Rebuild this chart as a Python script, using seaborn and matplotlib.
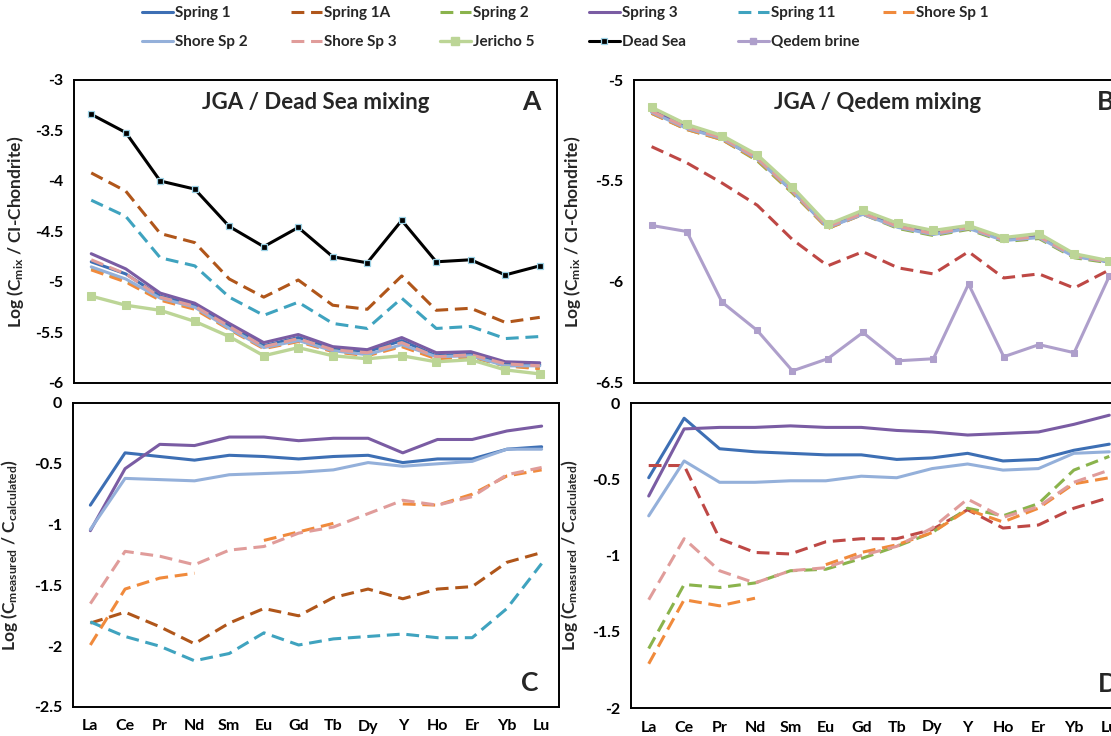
import numpy as np
import pandas as pd
import matplotlib
matplotlib.use("Agg")
import matplotlib.pyplot as plt
import seaborn as sns
from matplotlib.lines import Line2D

# ---------------------------------------------------------------- data
elements = ["La", "Ce", "Pr", "Nd", "Sm", "Eu", "Gd", "Tb", "Dy", "Y", "Ho", "Er", "Yb", "Lu"]
nan = np.nan

# Panel A: JGA / Dead Sea mixing, log(C_mix / CI-chondrite)
a_spring1 = [-4.80, -4.92, -5.14, -5.23, -5.43, -5.63, -5.55, -5.66, -5.69, -5.58, -5.73, -5.71, -5.81, -5.82]
a_spring1a = [-3.92, -4.10, -4.52, -4.61, -4.97, -5.15, -4.98, -5.23, -5.27, -4.94, -5.28, -5.26, -5.40, -5.35]
a_spring2 = [-4.87, -4.99, -5.17, -5.26, -5.46, -5.65, -5.58, -5.68, -5.72, -5.63, -5.75, -5.74, -5.83, -5.85]
a_spring3 = [-4.72, -4.87, -5.11, -5.21, -5.41, -5.60, -5.52, -5.64, -5.67, -5.55, -5.70, -5.69, -5.79, -5.80]
a_spring11 = [-4.19, -4.35, -4.76, -4.84, -5.15, -5.33, -5.20, -5.41, -5.46, -5.16, -5.46, -5.44, -5.56, -5.54]
a_shore1 = [-4.88, -5.00, -5.18, -5.27, -5.47, -5.66, -5.59, -5.69, -5.73, -5.64, -5.76, -5.74, -5.83, -5.86]
a_shore2 = [-4.85, -4.97, -5.16, -5.25, -5.46, -5.65, -5.58, -5.68, -5.72, -5.62, -5.74, -5.73, -5.83, -5.83]
a_shore3 = [-4.78, -4.92, -5.15, -5.24, -5.44, -5.64, -5.56, -5.67, -5.70, -5.60, -5.74, -5.72, -5.81, -5.83]
a_jericho5 = [-5.14, -5.23, -5.28, -5.39, -5.54, -5.73, -5.65, -5.73, -5.76, -5.73, -5.79, -5.77, -5.87, -5.91]
a_dead_sea = [-3.34, -3.52, -4.00, -4.08, -4.45, -4.65, -4.46, -4.75, -4.81, -4.39, -4.80, -4.78, -4.93, -4.84]

# Panel B: JGA / Qedem mixing
b_spring1 = [-5.155, -5.235, -5.29, -5.39, -5.55, -5.73, -5.66, -5.725, -5.76, -5.73, -5.79, -5.775, -5.87, -5.90]
b_spring1a = [-5.33, -5.41, -5.51, -5.62, -5.79, -5.92, -5.85, -5.93, -5.96, -5.85, -5.98, -5.96, -6.03, -5.94]
b_spring2 = [-5.165, -5.245, -5.295, -5.40, -5.56, -5.735, -5.665, -5.735, -5.77, -5.74, -5.80, -5.785, -5.88, -5.905]
b_spring3 = [-5.15, -5.23, -5.285, -5.385, -5.545, -5.725, -5.655, -5.72, -5.755, -5.725, -5.79, -5.77, -5.87, -5.90]
b_shore1 = [-5.165, -5.245, -5.295, -5.395, -5.555, -5.735, -5.665, -5.73, -5.765, -5.735, -5.795, -5.78, -5.875, -5.90]
b_shore2 = [-5.16, -5.24, -5.29, -5.39, -5.55, -5.73, -5.665, -5.73, -5.765, -5.735, -5.795, -5.78, -5.875, -5.90]
b_shore3 = [-5.155, -5.235, -5.285, -5.385, -5.545, -5.725, -5.66, -5.725, -5.76, -5.73, -5.79, -5.775, -5.87, -5.90]
b_jericho5 = [-5.135, -5.22, -5.275, -5.37, -5.53, -5.715, -5.645, -5.71, -5.745, -5.72, -5.78, -5.76, -5.86, -5.895]
b_qedem = [-5.72, -5.75, -6.10, -6.24, -6.44, -6.38, -6.25, -6.39, -6.38, -6.01, -6.37, -6.31, -6.35, -5.97]

# Panel C: log(C_measured / C_calculated), Dead Sea end-member
c_spring1 = [-0.84, -0.41, -0.44, -0.47, -0.43, -0.44, -0.46, -0.44, -0.43, -0.49, -0.46, -0.46, -0.38, -0.36]
c_spring1a = [-1.81, -1.72, -1.84, -1.98, -1.81, -1.69, -1.75, -1.60, -1.53, -1.61, -1.53, -1.51, -1.31, -1.23]
c_spring3 = [-1.05, -0.54, -0.34, -0.35, -0.28, -0.28, -0.31, -0.29, -0.29, -0.41, -0.30, -0.30, -0.23, -0.19]
c_spring11 = [-1.80, -1.92, -2.00, -2.12, -2.06, -1.89, -1.99, -1.94, -1.92, -1.90, -1.93, -1.93, -1.69, -1.32]
c_shore1 = [-1.99, -1.53, -1.44, -1.40, nan, -1.13, -1.06, -0.99, nan, -0.83, -0.84, -0.75, -0.60, -0.55]
c_shore2 = [-1.04, -0.62, -0.63, -0.64, -0.59, -0.58, -0.57, -0.55, -0.49, -0.52, -0.50, -0.48, -0.38, -0.38]
c_shore3 = [-1.65, -1.22, -1.26, -1.33, -1.21, -1.18, -1.07, -1.02, -0.91, -0.80, -0.84, -0.77, -0.59, -0.53]

# Panel D: log(C_measured / C_calculated), Qedem end-member
d_spring1 = [-0.49, -0.10, -0.30, -0.32, -0.33, -0.34, -0.34, -0.37, -0.36, -0.33, -0.38, -0.37, -0.31, -0.27]
d_spring1a = [-0.41, -0.41, -0.89, -0.98, -0.99, -0.91, -0.89, -0.89, -0.83, -0.70, -0.82, -0.80, -0.69, -0.62]
d_spring2 = [-1.61, -1.19, -1.21, -1.18, -1.10, -1.09, -1.02, -0.94, -0.85, -0.69, -0.74, -0.66, -0.44, -0.35]
d_spring3 = [-0.61, -0.17, -0.16, -0.16, -0.15, -0.16, -0.16, -0.18, -0.19, -0.21, -0.20, -0.19, -0.14, -0.08]
d_shore1 = [-1.71, -1.29, -1.33, -1.28, nan, -1.06, -0.98, -0.93, -0.85, -0.70, -0.78, -0.69, -0.53, -0.49]
d_shore2 = [-0.74, -0.38, -0.52, -0.52, -0.51, -0.51, -0.48, -0.49, -0.43, -0.40, -0.44, -0.43, -0.33, -0.32]
d_shore3 = [-1.29, -0.89, -1.10, -1.18, -1.10, -1.08, -1.00, -0.94, -0.82, -0.63, -0.75, -0.68, -0.52, -0.44]

a_yticks = [-6, -5.5, -5, -4.5, -4, -3.5, -3]
a_yticklabels = ["-6", "-5.5", "-5", "-4.5", "-4", "-3.5", "-3"]
b_yticks = [-6.5, -6, -5.5, -5]
b_yticklabels = ["-6.5", "-6", "-5.5", "-5"]
c_yticks = [-2.5, -2, -1.5, -1, -0.5, 0]
c_yticklabels = ["-2.5", "-2", "-1.5", "-1", "-0.5", "0"]
d_yticks = [-2, -1.5, -1, -0.5, 0]
d_yticklabels = ["-2", "-1.5", "-1", "-0.5", "0"]

# ---------------------------------------------------------------- styles
DASH = (0, (4.2, 2.2))
LW = 2.2
styles = {
    "Spring 1": dict(color="#3D6FB4", linestyle="-", linewidth=LW),
    "Spring 1A": dict(color="#B0561A", linestyle=DASH, linewidth=LW),
    "Spring 1A red": dict(color="#BE4845", linestyle=DASH, linewidth=LW),
    "Spring 2": dict(color="#8AB34C", linestyle=DASH, linewidth=LW),
    "Spring 3": dict(color="#7A5CA3", linestyle="-", linewidth=LW),
    "Spring 11": dict(color="#3FA3BF", linestyle=DASH, linewidth=LW),
    "Shore Sp 1": dict(color="#F08A3C", linestyle=DASH, linewidth=LW),
    "Shore Sp 2": dict(color="#94B0DA", linestyle="-", linewidth=LW),
    "Shore Sp 3": dict(color="#E09C9A", linestyle=DASH, linewidth=LW),
    "Jericho 5": dict(color="#BCD596", linestyle="-", linewidth=2.4, marker="s",
                      markersize=5.5, markerfacecolor="#BCD596", markeredgecolor="#BCD596"),
    "Dead Sea": dict(color="black", linestyle="-", linewidth=LW, marker="s",
                     markersize=4.0, markerfacecolor="black", markeredgecolor="#9CD2E6",
                     markeredgewidth=0.9),
    "Qedem brine": dict(color="#AE9FCB", linestyle="-", linewidth=LW, marker="s",
                        markersize=5.0, markerfacecolor="#AE9FCB", markeredgecolor="#AE9FCB"),
}

sns.set_theme(style="white")
plt.rcParams["font.family"] = ["Lato", "DejaVu Sans"]
plt.rcParams["font.weight"] = "bold"
plt.rcParams["axes.labelweight"] = "bold"
plt.rcParams["mathtext.fontset"] = "custom"
plt.rcParams["mathtext.rm"] = "Lato"
plt.rcParams["mathtext.default"] = "rm"

W, H = 1111, 736
fig = plt.figure(figsize=(W / 100, H / 100), dpi=100)


def px_axes(left, top, right, bottom):
    return fig.add_axes([left / W, 1 - bottom / H, (right - left) / W, (bottom - top) / H])


def draw(ax, values, key):
    df = pd.DataFrame({"x": np.arange(len(elements)), "y": np.asarray(values, dtype=float)})
    valid = df["y"].notna()
    seg_id = (valid != valid.shift()).cumsum()
    for _, seg in df[valid].groupby(seg_id[valid]):
        sns.lineplot(data=seg, x="x", y="y", ax=ax, **styles[key])


def frame(ax, yticks, yticklabels, ylim, ylabel, label_x, show_x):
    ax.set_xlim(-0.5, len(elements) - 0.5)
    ax.set_ylim(*ylim)
    ax.set_xticks(np.arange(len(elements)))
    ax.set_xticklabels(elements if show_x else [])
    ax.set_yticks(yticks)
    ax.set_yticklabels(yticklabels)
    ax.set_xlabel("")
    ax.set_ylabel(ylabel, fontsize=12.5, fontweight="bold")
    ax.yaxis.set_label_coords(label_x, 0.5)
    for sp in ax.spines.values():
        sp.set_visible(True)
        sp.set_color("black")
        sp.set_linewidth(1.4)
    ax.tick_params(axis="both", direction="out", length=5, width=1.2, color="black",
                   labelsize=11.5, labelcolor="black", pad=3)
    ax.tick_params(axis="x", pad=4)
    for t in ax.get_xticklabels() + ax.get_yticklabels():
        t.set_fontweight("bold")
    ax.grid(False)


ylab_mix = r"Log (C$_{\mathrm{mix}}$ / CI-Chondrite)"
ylab_ratio = r"Log (C$_{\mathrm{measured}}$ / C$_{\mathrm{calculated}}$)"

# Panel A
axA = px_axes(74, 80, 557, 383)
for vals, key in [(a_spring1, "Spring 1"), (a_spring1a, "Spring 1A"), (a_spring2, "Spring 2"),
                  (a_spring3, "Spring 3"), (a_spring11, "Spring 11"), (a_shore1, "Shore Sp 1"),
                  (a_shore2, "Shore Sp 2"), (a_shore3, "Shore Sp 3"), (a_jericho5, "Jericho 5"),
                  (a_dead_sea, "Dead Sea")]:
    draw(axA, vals, key)
frame(axA, a_yticks, a_yticklabels, (-6, -3), ylab_mix, -0.10, False)
axA.text(0.5, 0.927, "JGA / Dead Sea mixing", transform=axA.transAxes, ha="center",
         va="center", fontsize=16, fontweight="bold")
axA.text(0.946, 0.927, "A", transform=axA.transAxes, ha="center", va="center",
         fontsize=19, fontweight="bold")

# Panel B
axB = px_axes(634, 80, 1127, 383)
for vals, key in [(b_spring1, "Spring 1"), (b_spring1a, "Spring 1A red"), (b_spring2, "Spring 2"),
                  (b_spring3, "Spring 3"), (b_shore1, "Shore Sp 1"), (b_shore2, "Shore Sp 2"),
                  (b_shore3, "Shore Sp 3"), (b_jericho5, "Jericho 5"), (b_qedem, "Qedem brine")]:
    draw(axB, vals, key)
frame(axB, b_yticks, b_yticklabels, (-6.5, -5), ylab_mix, -0.103, False)
axB.text(0.495, 0.927, "JGA / Qedem mixing", transform=axB.transAxes, ha="center",
         va="center", fontsize=16, fontweight="bold")
axB.text(0.956, 0.927, "B", transform=axB.transAxes, ha="center", va="center",
         fontsize=19, fontweight="bold")

# Panel C
axC = px_axes(73, 403, 559, 707)
for vals, key in [(c_spring1, "Spring 1"), (c_spring1a, "Spring 1A"), (c_spring3, "Spring 3"),
                  (c_spring11, "Spring 11"), (c_shore1, "Shore Sp 1"), (c_shore2, "Shore Sp 2"),
                  (c_shore3, "Shore Sp 3")]:
    draw(axC, vals, key)
frame(axC, c_yticks, c_yticklabels, (-2.5, 0), ylab_ratio, -0.109, True)
axC.text(0.94, 0.079, "C", transform=axC.transAxes, ha="center", va="center",
         fontsize=19, fontweight="bold")

# Panel D
axD = px_axes(631, 403, 1127, 708)
for vals, key in [(d_spring1, "Spring 1"), (d_spring1a, "Spring 1A red"), (d_spring2, "Spring 2"),
                  (d_spring3, "Spring 3"), (d_shore1, "Shore Sp 1"), (d_shore2, "Shore Sp 2"),
                  (d_shore3, "Shore Sp 3")]:
    draw(axD, vals, key)
frame(axD, d_yticks, d_yticklabels, (-2, 0), ylab_ratio, -0.103, True)
axD.text(0.962, 0.079, "D", transform=axD.transAxes, ha="center", va="center",
         fontsize=19, fontweight="bold")

# Legend: two rows, six columns at fixed positions
columns = [["Spring 1", "Shore Sp 2"], ["Spring 1A", "Shore Sp 3"], ["Spring 2", "Jericho 5"],
           ["Spring 3", "Dead Sea"], ["Spring 11", "Qedem brine"], ["Shore Sp 1"]]
col_x = [142, 291, 440, 589, 738, 883]
for names, x in zip(columns, col_x):
    handles = [Line2D([], [], **styles[n]) for n in names]
    fig.legend(handles, names, loc="upper left", bbox_to_anchor=(x / W, 1 - 6 / H),
               frameon=False, handlelength=2.0, handletextpad=0.15, labelspacing=1.0,
               borderpad=0, borderaxespad=0, prop=dict(weight="bold", size=11))

fig.savefig("out.png", dpi=100)
